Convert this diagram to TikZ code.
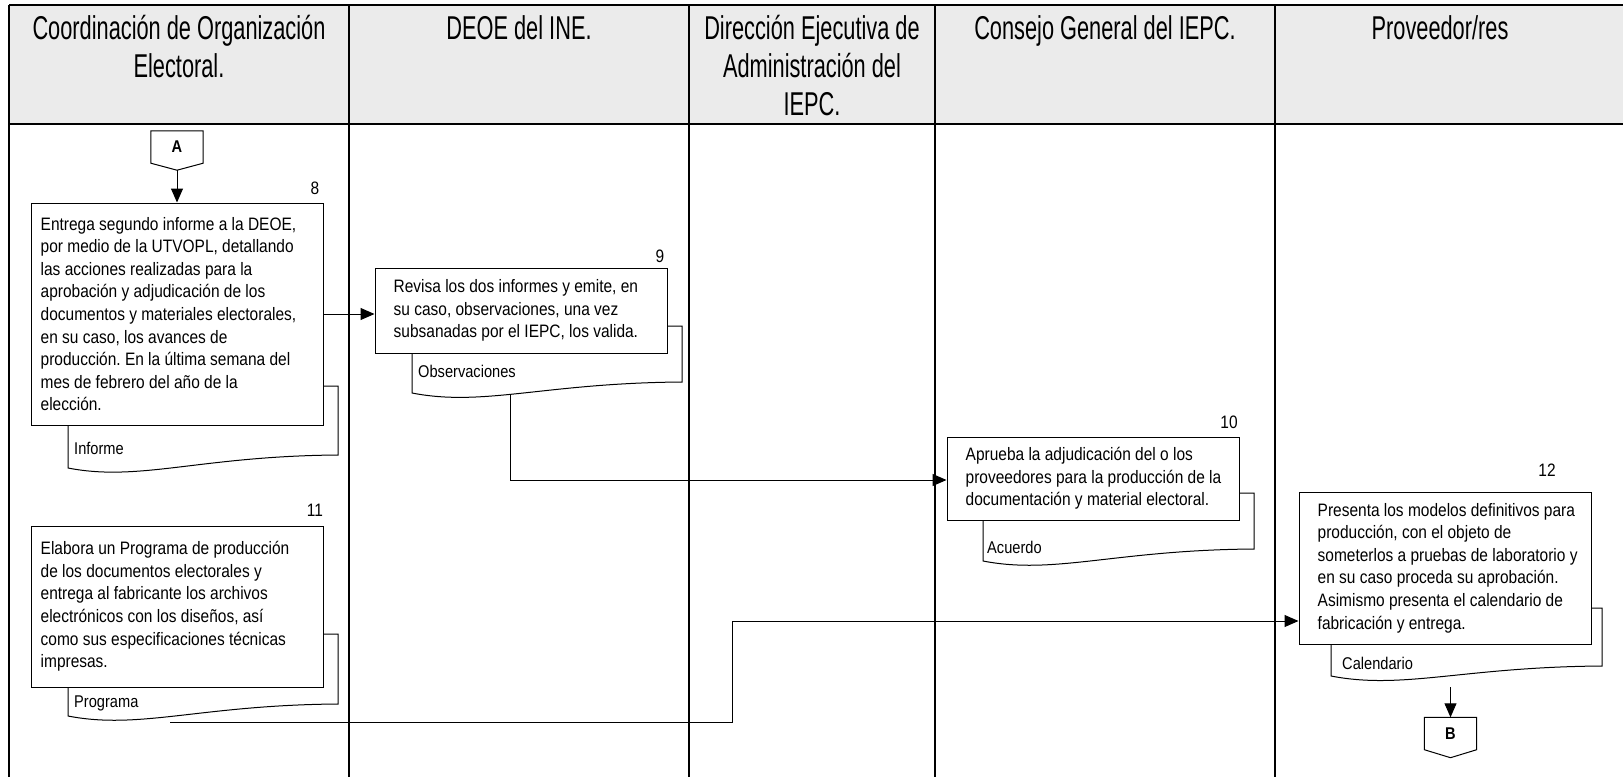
\documentclass[tikz,border=0pt]{standalone}
\usepackage{fontspec}
\setmainfont{Liberation Sans}[FakeStretch=0.86]
\newfontfamily\headfont{Liberation Sans}[FakeStretch=0.66]
\usetikzlibrary{arrows.meta,calc}
\definecolor{hdrgray}{RGB}{235,235,235}
\frenchspacing
\begin{document}
\begin{tikzpicture}[x=1pt,y=-1pt,
  lane/.style={line width=1.8pt},
  box/.style={draw, line width=1pt, fill=white, minimum width=292pt, inner sep=0pt},
  txt/.style={anchor=west, align=left, inner sep=0pt, font=\fontsize{18}{22.6}\selectfont},
  doclabel/.style={anchor=west, inner sep=0pt, font=\fontsize{17}{19}\selectfont},
  num/.style={inner sep=0pt, font=\fontsize{18}{20}\selectfont},
  hdr/.style={anchor=north, align=center, inner sep=0pt, font=\headfont\fontsize{33}{38}\selectfont},
  doc/.style={draw, line width=1pt, fill=white},
  arr/.style={line width=1pt, -{Triangle[length=14pt,width=12pt]}},
  conn/.style={minimum width=52pt, minimum height=32pt, inner sep=0pt, font=\bfseries\fontsize{17}{19}\selectfont},
]
\useasboundingbox (0,0) rectangle (1623,777);
% header
\fill[hdrgray] (9,5) rectangle (1623,124);
\draw[lane] (9,5) -- (1623,5);
\draw[lane] (9,124) -- (1623,124);
\foreach \x in {9,349,689,935,1275} \draw[lane] (\x,5) -- (\x,777);
\node[hdr] (h1) at (179,15) {Coordinación de Organización\\Electoral.};
\node[hdr] (h2) at (519,15) {DEOE del INE.};
\node[hdr] (h3) at (812,15) {Dirección Ejecutiva de\\Administración del\\IEPC.};
\node[hdr] (h4) at (1105,15) {Consejo General del IEPC.};
\node[hdr] (h5) at (1440,15) {Proveedor/res};

% connector A
\node[conn] (A) at (177,147) {A};
\draw[line width=1pt] (A.north west) -- (A.north east) -- (A.south east) -- ($(A.south)+(0,7)$) -- (A.south west) -- cycle;
\coordinate (Atip) at ($(A.south)+(0,7)$);

% document shapes
\filldraw[doc] (300,400) -- (68,400) -- (68,468) .. controls (140,482) and (200,456) .. (338,455) -- (338,386) -- (300,386) -- cycle;
\filldraw[doc] (640,340) -- (412,340) -- (412,393) .. controls (484,407) and (544,383) .. (682,382) -- (682,326) -- (640,326) -- cycle;
\filldraw[doc] (1200,505) -- (983,505) -- (983,561) .. controls (1055,575) and (1115,550) .. (1254,549) -- (1254,493) -- (1200,493) -- cycle;
\filldraw[doc] (300,660) -- (68,660) -- (68,716) .. controls (140,730) and (200,705) .. (338,704) -- (338,634) -- (300,634) -- cycle;
\filldraw[doc] (1560,630) -- (1331,630) -- (1331,676) .. controls (1403,690) and (1463,667) .. (1602,666) -- (1602,608) -- (1560,608) -- cycle;

% boxes
\node[box, minimum height=222pt] (b8) at (177,314) {};
\node[box, minimum height=85pt] (b9) at (521,310.5) {};
\node[box, minimum height=83pt] (b10) at (1093,478.5) {};
\node[box, minimum height=161pt] (b11) at (177,606.5) {};
\node[box, minimum height=152pt] (b12) at (1445,568) {};

\node[txt] (t8) at ([xshift=10pt]b8.west) {Entrega segundo informe a la DEOE,\\por medio de la UTVOPL, detallando\\las acciones realizadas para la\\aprobación y adjudicación de los\\documentos y materiales electorales,\\en su caso, los avances de\\producción. En la última semana del\\mes de febrero del año de la\\elección.};
\node[txt] (t9) at ([xshift=19pt]b9.west) {Revisa los dos informes y emite, en\\su caso, observaciones, una vez\\subsanadas por el IEPC, los valida.};
\node[txt] (t10) at ([xshift=19pt]b10.west) {Aprueba la adjudicación del o los\\proveedores para la producción de la\\documentación y material electoral.};
\node[txt] (t11) at ([xshift=10pt]b11.west) {Elabora un Programa de producción\\de los documentos electorales y\\entrega al fabricante los archivos\\electrónicos con los diseños, así\\como sus especificaciones técnicas\\impresas.};
\node[txt] (t12) at ([xshift=19pt]b12.west) {Presenta los modelos definitivos para\\producción, con el objeto de\\someterlos a pruebas de laboratorio y\\en su caso proceda su aprobación.\\Asimismo presenta el calendario de\\fabricación y entrega.};

% numbers
\node[num] (n8) at (315,188) {8};
\node[num] (n9) at (660,256) {9};
\node[num] (n10) at (1229,422) {10};
\node[num] (n11) at (315,510) {11};
\node[num] (n12) at (1547,470) {12};

% document labels
\node[doclabel] (l8) at (74,448) {Informe};
\node[doclabel] (l9) at (418,371) {Observaciones};
\node[doclabel] (l10) at (987,547) {Acuerdo};
\node[doclabel] (l11) at (74,703) {Programa};
\node[doclabel] (l12) at (1342,663) {Calendario};

% connector B
\node[conn] (B) at (1450.5,733.5) {B};
\draw[line width=1pt] (B.north west) -- (B.north east) -- (B.south east) -- ($(B.south)+(0,8)$) -- (B.south west) -- cycle;

% connectors
\coordinate (o9) at (510,394);
\coordinate (j9) at (510,480);
\coordinate (o11) at (170,722);
\coordinate (j11) at (732,621);
\coordinate (o12) at (1450.5,687);

\draw[arr] (Atip) -- (b8.north);
\draw[arr] (b8.east) -- (b8.east -| b9.west);
\draw[arr] (o9) -- (j9) -- (j9 -| b10.west);
\draw[arr] (o11) -| (j11) -- (j11 -| b12.west);
\draw[arr] (o12) -- (B.north);
\end{tikzpicture}
\end{document}
